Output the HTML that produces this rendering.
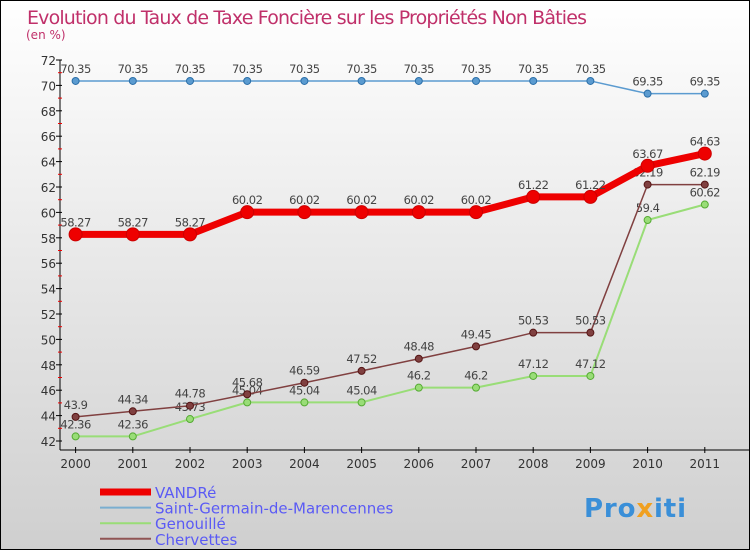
<!DOCTYPE html>
<html><head><meta charset="utf-8"><style>
body{margin:0}
#c{width:750px;height:550px;position:relative;overflow:hidden;font-family:"DejaVu Sans","Liberation Sans",sans-serif}
</style></head><body>
<div id="c">
<svg id="s" width="750" height="550" xmlns="http://www.w3.org/2000/svg">
<defs><linearGradient id="bg" x1="0" y1="0" x2="0" y2="1"><stop offset="0" stop-color="#ffffff"/><stop offset="1" stop-color="#cfcfcf"/></linearGradient></defs>
<rect x="0.5" y="0.5" width="749" height="549" fill="url(#bg)" stroke="#000"/>
<text x="27" y="24" font-size="19" fill="#c0306a" font-family="'DejaVu Sans',sans-serif" textLength="560">Evolution du Taux de Taxe Foncière sur les Propriétés Non Bâties</text>
<text x="26" y="39" font-size="12" fill="#c0306a">(en %)</text>
<g id="axes"></g><g id="series"></g><g id="legend"></g>
<text x="584" y="517" font-size="26" font-weight="bold" font-family="'DejaVu Sans',sans-serif" fill="#3a8fd8" textLength="102">Pro<tspan fill="#f0a020">x</tspan>iti</text>
</svg>
</div>
<script>
const years=["2000","2001","2002","2003","2004","2005","2006","2007","2008","2009","2010","2011"];
const vandre=[58.27,58.27,58.27,60.02,60.02,60.02,60.02,60.02,61.22,61.22,63.67,64.63];
const stgermain=[70.35,70.35,70.35,70.35,70.35,70.35,70.35,70.35,70.35,70.35,69.35,69.35];
const genouille=[42.36,42.36,43.73,45.04,45.04,45.04,46.2,46.2,47.12,47.12,59.4,60.62];
const chervettes=[43.9,44.34,44.78,45.68,46.59,47.52,48.48,49.45,50.53,50.53,62.19,62.19];
const yTicks=[42,44,46,48,50,52,54,56,58,60,62,64,66,68,70,72];
const NS="http://www.w3.org/2000/svg";
const X=i=>75.6+i*57.2;
const Y=v=>441-(v-42)*(381/30);
function mk(tag,attrs,parent,txt){const e=document.createElementNS(NS,tag);for(const k in attrs)e.setAttribute(k,attrs[k]);if(txt!==undefined)e.textContent=txt;parent.appendChild(e);return e;}
const axes=document.getElementById('axes');
const yl=mk('line',{x1:60,y1:Y(72),x2:60,y2:450,stroke:'#000'},axes);

const xl=mk('line',{x1:60,y1:450,x2:750,y2:450,stroke:'#000'},axes);

yTicks.forEach(t=>{mk('line',{x1:56,x2:62,y1:Y(t),y2:Y(t),stroke:'#000'},axes);
 if(t<72)mk('line',{x1:58,x2:62,y1:Y(t+1),y2:Y(t+1),stroke:'#e00'},axes);
 const tx=mk('text',{x:56,y:Y(t)+5,'font-size':12,fill:'#333','text-anchor':'end'},axes,t);
 });
years.forEach((y,i)=>{mk('line',{x1:X(i),x2:X(i),y1:447,y2:453,stroke:'#000'},axes);
 const tx=mk('text',{x:X(i),y:468,'font-size':12,fill:'#333','text-anchor':'middle'},axes,y);
 });
const ser=document.getElementById('series');
function draw(vals,color,w,r,name,dark){
 const g=mk('g',{},ser);
 mk('polyline',{points:vals.map((v,i)=>X(i)+','+Y(v)).join(' '),fill:'none',stroke:color,'stroke-width':w,'stroke-linejoin':'round'},g);
 vals.forEach((v,i)=>{const c=mk('circle',{cx:X(i),cy:Y(v),r:r,fill:color,stroke:dark,'stroke-width':1},g);
  
  const t=mk('text',{x:X(i),y:Y(v)-8,'font-size':11.5,fill:'#444','text-anchor':'middle','letter-spacing':'-0.5'},g,String(v));
  });
}
draw(stgermain,'#5b9bd0',1.5,3.5,'saint-germain-series','#2a6ea8');
draw(genouille,'#99dd77',2,3.5,'genouille-series','#55aa33');
draw(chervettes,'#804040',1.5,3.5,'chervettes-series','#551515');
draw(vandre,'#ee0000',7,6.5,'vandre-series','#cc0000');
const leg=document.getElementById('legend');
const items=[["VANDRé","#ee0000",7],["Saint-Germain-de-Marencennes","#7aaed0",2],["Genouillé","#99dd77",2],["Chervettes","#905555",2]];
items.forEach((it,k)=>{const y=492+k*15.6;
 const g=mk('g',{},leg);
 mk('line',{x1:100,x2:151,y1:y,y2:y,stroke:it[1],'stroke-width':it[2]},g);
 mk('text',{x:155,y:y+6,'font-size':15,fill:'#5a5af5'},g,it[0]);});
</script>
</body></html>
